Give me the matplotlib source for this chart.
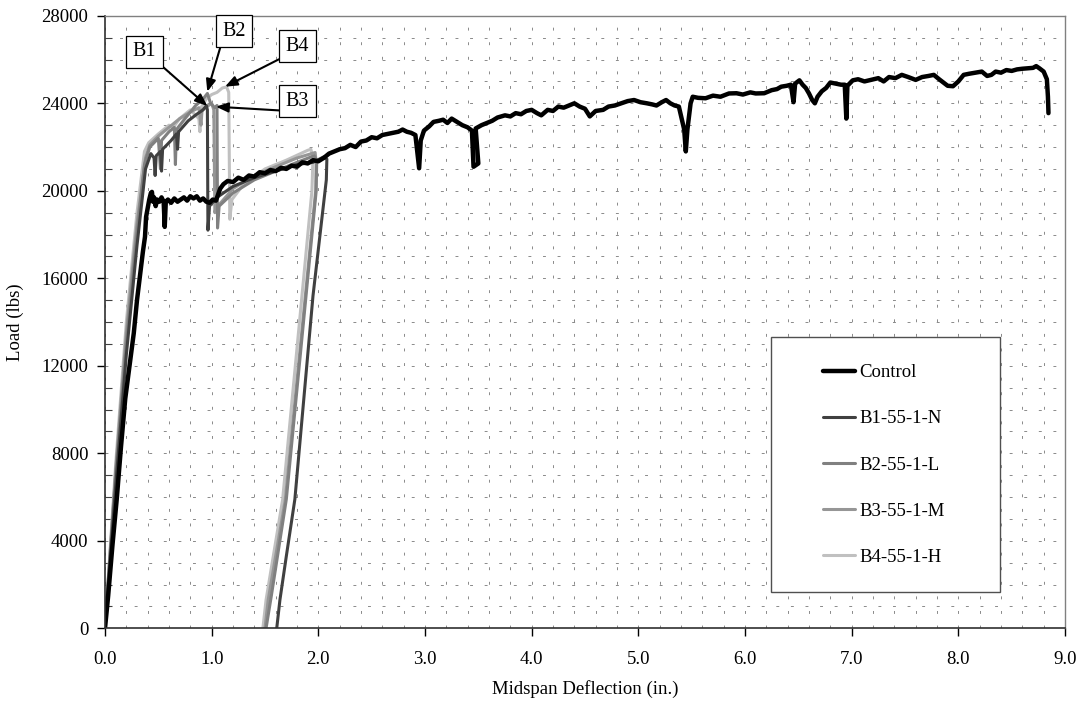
import matplotlib
matplotlib.use("Agg")
import matplotlib.pyplot as plt
from matplotlib.patches import Rectangle
from matplotlib.ticker import MultipleLocator

plt.rcParams['font.family'] = ['Liberation Serif', 'DejaVu Serif']

# ---------------- data ----------------
control_x = [0, 0.03, 0.07, 0.11, 0.15, 0.19, 0.23, 0.27, 0.30, 0.33, 0.355, 0.375, 0.385, 0.40, 0.415,
             0.43, 0.44, 0.45, 0.46, 0.475, 0.49, 0.51, 0.53, 0.55, 0.56, 0.57, 0.59, 0.62, 0.65, 0.68,
             0.71, 0.74, 0.77, 0.80, 0.83, 0.86, 0.89, 0.92, 0.95, 0.98, 1.01, 1.04, 1.08, 1.11, 1.15,
             1.20, 1.25, 1.30, 1.35, 1.40, 1.45, 1.50, 1.55, 1.60, 1.65, 1.70, 1.75, 1.80, 1.85, 1.90,
             1.95, 2.00, 2.05, 2.10, 2.15, 2.20, 2.25, 2.30, 2.35, 2.40, 2.45, 2.50, 2.55, 2.60, 2.65,
             2.70, 2.75, 2.79, 2.83, 2.87, 2.91, 2.945, 2.96, 2.99, 3.04, 3.08, 3.13, 3.17, 3.21, 3.25,
             3.30, 3.35, 3.40, 3.44, 3.455, 3.50, 3.475, 3.53, 3.58, 3.63, 3.68, 3.75, 3.80, 3.85, 3.90,
             3.95, 4.00, 4.05, 4.09, 4.15, 4.20, 4.25, 4.30, 4.35, 4.40, 4.45, 4.50, 4.545, 4.60, 4.67,
             4.72, 4.78, 4.84, 4.90, 4.96, 5.02, 5.08, 5.13, 5.17, 5.22, 5.26, 5.30, 5.34, 5.38, 5.43,
             5.445, 5.46, 5.49, 5.51, 5.56, 5.63, 5.70, 5.77, 5.85, 5.92, 5.98, 6.05, 6.10, 6.18, 6.25,
             6.30, 6.34, 6.39, 6.43, 6.455, 6.47, 6.51, 6.54, 6.57, 6.60, 6.63, 6.655, 6.68, 6.72, 6.76,
             6.80, 6.85, 6.90, 6.935, 6.95, 6.96, 7.01, 7.06, 7.12, 7.18, 7.25, 7.30, 7.35, 7.41, 7.47,
             7.53, 7.60, 7.66, 7.72, 7.77, 7.82, 7.86, 7.90, 7.95, 8.00, 8.05, 8.10, 8.16, 8.22, 8.27,
             8.31, 8.35, 8.40, 8.45, 8.50, 8.55, 8.60, 8.65, 8.70, 8.73, 8.76, 8.80, 8.83, 8.84, 8.845]
control_y = [0, 1500, 3800, 5900, 8300, 10500, 12000, 13500, 15000, 16200, 17200, 17900, 18800, 19200, 19600,
             19900, 19950, 19500, 19700, 19300, 19600, 19500, 19700, 19500, 18350, 19500, 19600, 19450, 19650, 19500,
             19600, 19700, 19550, 19750, 19650, 19750, 19550, 19650, 19500, 19450, 19600, 19550, 20100, 20300, 20450,
             20400, 20600, 20500, 20700, 20650, 20850, 20800, 20950, 20900, 21050, 21000, 21150, 21100, 21300, 21250,
             21400, 21350, 21500, 21700, 21800, 21900, 21950, 22100, 22000, 22250, 22300, 22450, 22400, 22550, 22600,
             22650, 22700, 22800, 22700, 22650, 22550, 21030, 22300, 22750, 22950, 23150, 23200, 23250, 23100, 23300,
             23150, 23000, 22900, 22750, 21100, 21250, 22850, 23000, 23100, 23200, 23350, 23450, 23400, 23550, 23500,
             23650, 23700, 23550, 23450, 23700, 23650, 23850, 23800, 23900, 24000, 23850, 23750, 23400, 23650, 23700,
             23850, 23900, 24000, 24100, 24150, 24050, 24000, 23950, 23900, 24050, 24150, 24000, 23900, 23850, 22800,
             21800, 22800, 24000, 24300, 24250, 24230, 24350, 24300, 24450, 24460, 24400, 24500, 24450, 24460, 24600,
             24650, 24760, 24800, 24850, 24050, 24900, 25050, 24850, 24700, 24450, 24150, 24000, 24300, 24550, 24700,
             24950, 24900, 24850, 24850, 23300, 24800, 25050, 25100, 25000, 25070, 25150, 25000, 25200, 25150, 25300,
             25200, 25070, 25200, 25250, 25300, 25100, 24950, 24800, 24780, 25000, 25300, 25350, 25400, 25450, 25250,
             25300, 25450, 25400, 25520, 25480, 25550, 25580, 25600, 25620, 25700, 25600, 25450, 25100, 24300, 23550]

b1_x = [0, 0.10, 0.20, 0.30, 0.38, 0.43, 0.46, 0.47, 0.48, 0.52, 0.53, 0.54, 0.62, 0.67, 0.68, 0.69,
        0.78, 0.86, 0.92, 0.95, 0.96, 0.965, 0.98, 1.05, 1.20, 1.40, 1.60, 1.80, 1.95, 2.05, 2.08,
        2.075, 1.95, 1.78, 1.70, 1.64, 1.61]
b1_y = [0, 6500, 12500, 17500, 21000, 21700, 21500, 20700, 21600, 21800, 20900, 21900, 22300, 22600, 21900, 22700,
        23200, 23500, 23700, 23900, 23700, 18200, 19300, 19700, 20200, 20600, 20900, 21200, 21300, 21550, 21450,
        20500, 15200, 5900, 3300, 1300, 0]

b2_x = [0, 0.10, 0.20, 0.30, 0.37, 0.42, 0.50, 0.52, 0.53, 0.60, 0.65, 0.66, 0.67, 0.75, 0.85, 0.92,
        0.96, 0.99, 1.03, 1.05, 1.055, 1.07, 1.20, 1.40, 1.60, 1.80, 1.96, 1.985, 1.98, 1.70, 1.56, 1.51]
b2_y = [0, 7000, 13000, 18000, 21200, 22000, 22400, 21000, 22300, 22700, 22900, 21200, 22800, 23300, 23900, 24200,
        24450, 24000, 23800, 23900, 18300, 19300, 19900, 20500, 20900, 21300, 21600, 21400, 20000, 5900, 1500, 0]

b3_x = [0, 0.10, 0.20, 0.30, 0.38, 0.42, 0.50, 0.60, 0.70, 0.80, 0.88, 0.90, 0.91, 0.97, 1.00, 1.02,
        1.03, 1.04, 1.20, 1.40, 1.60, 1.80, 1.97, 1.98, 1.975, 1.69, 1.53, 1.50]
b3_y = [0, 7200, 13500, 18500, 21500, 22100, 22500, 22900, 23300, 23600, 23800, 23000, 23700, 23900, 24000, 23700,
        19000, 19200, 20100, 20700, 21100, 21500, 21750, 21300, 20000, 5870, 1300, 0]

b4_x = [0, 0.10, 0.20, 0.30, 0.37, 0.41, 0.50, 0.60, 0.64, 0.70, 0.80, 0.88, 0.89, 0.90, 0.95, 1.00,
        1.05, 1.10, 1.14, 1.16, 1.17, 1.19, 1.30, 1.50, 1.70, 1.90, 1.93, 1.95, 1.94, 1.665, 1.51, 1.48]
b4_y = [0, 7500, 14000, 19000, 21800, 22200, 22600, 23000, 22900, 23300, 23700, 23300, 22700, 23800, 24200, 24400,
        24500, 24700, 24750, 24500, 18700, 19600, 20300, 21000, 21400, 21850, 21900, 21500, 20000, 5870, 1300, 0]

series_labels = ["Control", "B1-55-1-N", "B2-55-1-L", "B3-55-1-M", "B4-55-1-H"]
series_colors = ["#000000", "#404040", "#808080", "#969696", "#c0c0c0"]
x_ticks = [0.0, 1.0, 2.0, 3.0, 4.0, 5.0, 6.0, 7.0, 8.0, 9.0]
y_ticks = [0, 4000, 8000, 12000, 16000, 20000, 24000, 28000]

# ---------------- figure ----------------
fig = plt.figure(figsize=(10.83, 7.07), dpi=100)
ax = fig.add_axes([0.09695, 0.11132, 0.98338 - 0.09695, 0.97765 - 0.11132])

ax.set_xlim(0, 9)
ax.set_ylim(0, 28000)

# grid
ax.xaxis.set_minor_locator(MultipleLocator(0.2))
ax.yaxis.set_minor_locator(MultipleLocator(1000))
ax.grid(which='both', color='#8a8a8a', linewidth=0.7, linestyle=(0, (3, 12)))
ax.set_axisbelow(True)

series = [(control_x, control_y), (b1_x, b1_y), (b2_x, b2_y), (b3_x, b3_y), (b4_x, b4_y)]
widths = [3.2, 2.2, 2.2, 2.2, 2.2]
handles = []
for (xs, ys), lab, col, lw in zip(series[::-1], series_labels[::-1], series_colors[::-1], widths[::-1]):
    h, = ax.plot(xs, ys, color=col, lw=lw, label=lab, solid_joinstyle='round', solid_capstyle='round')
    handles.append(h)
handles = handles[::-1]

# ticks
ax.set_xticks(x_ticks)
ax.set_xticklabels([f"{v:.1f}" for v in x_ticks])
ax.set_yticks(y_ticks)
ax.set_yticklabels([str(v) for v in y_ticks])
ax.tick_params(axis='both', which='major', direction='out', length=6, width=1, labelsize=13.5, colors='black')
ax.tick_params(axis='x', which='major', pad=10)
ax.tick_params(axis='y', which='major', pad=6)
ax.tick_params(axis='x', which='minor', length=0)
ax.tick_params(axis='y', which='minor', direction='in', length=5, width=0.8, color='#404040')

for s in ['top', 'right']:
    ax.spines[s].set_color('#808080')
    ax.spines[s].set_linewidth(1.0)
ax.spines['left'].set_color('#303030')
ax.spines['bottom'].set_color('#303030')
ax.spines['left'].set_linewidth(1.2)
ax.spines['bottom'].set_linewidth(1.2)

ax.set_xlabel("Midspan Deflection (in.)", fontsize=13.5)
ax.set_ylabel("Load (lbs)", fontsize=13.5)
ax.xaxis.set_label_coords(0.5, -0.085)
ax.yaxis.set_label_coords(-0.084, 0.5)

# legend with a manually-sized frame
ax.add_patch(Rectangle((0.6934, 0.0598), 0.9323 - 0.6934, 0.476 - 0.0598, transform=ax.transAxes,
                       facecolor='white', edgecolor='#505050', lw=1.0, zorder=5))
leg_handles = []
for lab, col, lw in zip(series_labels, series_colors, [3.2, 2.2, 2.2, 2.2, 2.2]):
    leg_handles.append(plt.Line2D([], [], color=col, lw=lw, solid_capstyle='round'))
leg = ax.legend(leg_handles, series_labels, loc='center left', bbox_to_anchor=(0.7476, 0.2666),
                frameon=False, fontsize=13.5, borderpad=0, borderaxespad=0, handlelength=1.72,
                handletextpad=0.25, labelspacing=1.55)
leg.set_zorder(6)

# annotations
ann = dict(fontsize=14.5, ha='center', va='center', zorder=7,
           bbox=dict(boxstyle='square,pad=0.32', fc='white', ec='black', lw=0.9))
def arrow(rel):
    return dict(arrowstyle='-|>,head_length=0.5,head_width=0.2', color='black', lw=1.5,
                relpos=rel, shrinkA=0, shrinkB=0)
ax.annotate("B1", xy=(0.959, 23877), xytext=(0.372, 26360), arrowprops=arrow((1, 0)), **ann)
ax.annotate("B2", xy=(0.959, 24530), xytext=(1.209, 27291), arrowprops=arrow((0, 0)), **ann)
ax.annotate("B4", xy=(1.125, 24759), xytext=(1.805, 26606), arrowprops=arrow((0, 0)), **ann)
ax.annotate("B3", xy=(1.040, 23845), xytext=(1.805, 24091), arrowprops=arrow((0, 0)), **ann)

fig.savefig("out.png", dpi=100)
